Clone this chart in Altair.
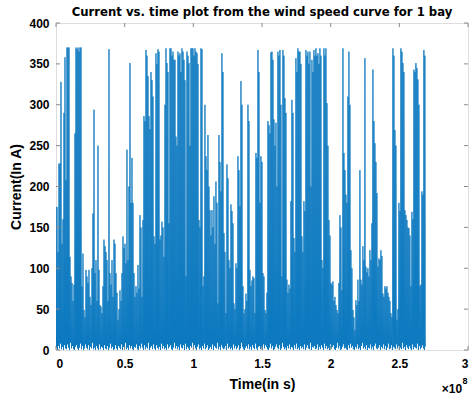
import altair as alt
import pandas as pd

# Peak current (A) read per screen column of the reference, left to right
peak_current = [
    175, 175, 120, 228, 228, 328, 130, 160, 290, 358,
    208, 370, 370, 370, 114, 90, 82, 60, 80, 265,
    370, 368, 370, 365, 370, 370, 78, 118, 49, 40,
    98, 90, 82, 98, 65, 55, 100, 167, 294, 94,
    110, 60, 250, 98, 55, 53, 45, 78, 135, 127,
    120, 110, 60, 368,
    94, 80, 110, 65, 135, 130, 94, 70, 37, 50,
    73, 60, 94, 139, 125, 130, 106, 245, 110, 200,
    351, 180, 235, 180, 94, 65, 78, 70, 104, 75,
    165, 150, 65, 159, 286, 280, 367, 360, 335, 286,
    270, 340, 330, 310, 139, 130, 363, 350, 368, 365,
    135, 140, 157, 150,
    114, 300, 369, 351, 340, 155, 369, 369, 360, 365,
    355, 355, 261, 250, 365, 360, 363, 340, 369, 365,
    355, 330, 90, 365, 360, 351, 250, 369, 369, 369,
    360, 369, 365, 363, 350, 159, 150, 369, 368, 78,
    90, 300, 237, 220, 263, 200, 171, 140, 171, 150,
    188, 130, 206, 180,
    57, 263, 230, 194, 363, 340, 143, 120, 45, 227,
    210, 110, 100, 178, 170, 155, 57, 50, 106, 100,
    237, 220, 176, 329, 300, 78, 45, 50, 69, 60,
    300, 280, 98, 78, 85, 90, 88, 45, 241, 235,
    367, 340, 180, 237, 230, 94, 90, 49, 45, 70,
    280, 275, 265, 364,
    365, 355, 282, 250, 278, 200, 365, 360, 367, 300,
    90, 367, 360, 308, 290, 86, 70, 80, 75, 182,
    306, 290, 137, 120, 357, 340, 369, 365, 365, 350,
    139, 120, 182, 170, 367, 360, 365, 350, 365, 200,
    355, 340, 367, 360, 369, 360, 363, 350, 369, 360,
    110, 100, 369, 360,
    369, 302, 250, 159, 140, 82, 80, 84, 60, 65,
    55, 49, 45, 82, 165, 150, 73, 369, 241, 220,
    190, 180, 310, 365, 300, 122, 100, 49, 40, 24,
    61, 55, 86, 60, 220, 86, 80, 127, 110, 357,
    102, 95, 100, 90, 122, 110, 155, 343, 280, 253,
    230, 192, 102,
    112, 110, 122, 115, 69, 65, 78, 75, 78, 70,
    65, 60, 45, 40, 369, 360, 269, 250, 37, 50,
    180, 170, 369, 365, 351, 340, 171, 165, 159, 150,
    149, 140, 78, 169, 160, 343, 340, 351, 345, 331,
    300, 78, 80, 194, 190, 367, 360,
]

# Low current (A) reached between peaks in each column
trough_current = [
    3, 0, 5, 2, 8, 1, 4, 0, 6, 2,
    1, 7, 3, 0, 9, 2, 5, 1, 0, 4,
    6, 2, 0, 3, 8, 1, 5, 0, 2, 7,
    3, 1, 6, 0, 4, 2, 9, 1, 3, 0,
    5, 2, 0, 7, 1, 4, 3, 0, 6, 2,
    1, 5, 0, 3, 8, 2, 4, 0, 1, 6,
    2, 0, 5, 3, 1, 7, 0, 4, 2, 9,
    1, 3, 0, 6, 2, 5, 1, 0, 4, 3,
    7, 1, 0, 5, 2, 8, 3, 0, 6, 1,
    4, 2, 9, 0, 3, 5, 1, 7, 2, 0,
    6, 3, 1, 4, 0, 8, 2, 5, 1, 3,
    0, 7, 2, 4, 6, 1, 0, 3, 9, 2,
    5, 1, 4, 0, 7, 3, 2, 6, 0, 8,
    1, 4, 2, 0, 5, 3, 9, 1, 6, 2,
    0, 4, 7, 1, 3, 0, 5, 2, 8, 1,
    3, 6, 0, 2, 4, 1, 7, 0, 5, 3,
    2, 9, 1, 4, 0, 6, 3, 1, 2, 5,
    0, 8, 2, 4, 1, 3, 0, 7, 2, 5,
    1, 3, 6, 0, 2, 9, 4, 1, 0, 3,
    5, 2, 7, 1, 4, 0, 6, 3, 1, 8,
    2, 0, 4, 5, 1, 3, 0, 7, 2, 6,
    4, 1, 0, 3, 8, 2, 5, 0, 1, 4,
    7, 3, 1, 6, 0, 2, 9, 4, 1, 3,
    0, 5, 2, 7, 1, 4, 3, 0, 6, 2,
    8, 1, 3, 0, 5, 2, 4, 1, 7, 0,
    3, 6, 2, 1, 9, 0, 4, 3, 5, 1,
    2, 7, 0, 4, 1, 6, 3, 0, 8, 2,
    5, 1, 3, 0, 7, 2, 4, 6, 1, 0,
    3, 9, 2, 5, 0, 1, 4, 7, 2, 3,
    1, 0, 6, 2, 8, 3, 5, 1, 0, 4,
    2, 7, 1, 3, 0, 5, 9, 2, 4, 1,
    6, 0, 3, 2, 7, 1, 4, 0, 5, 8,
    2, 1, 3, 6, 0, 4, 2, 7, 1, 5,
    0, 3, 8, 1, 2, 6, 0, 4, 3, 1,
    7, 2, 5, 0, 3, 1, 9, 2, 4, 0,
    6, 3, 1, 5, 2, 0, 7, 1, 4, 3,
    2, 8, 0, 5, 1, 3, 6, 2, 0, 4,
]

sample_step_s = 7.28e5          # time covered by one column of the reference
x_tick_values = [0, 5e7, 1e8, 1.5e8, 2e8, 2.5e8, 3e8]
y_tick_values = [0, 50, 100, 150, 200, 250, 300, 350, 400]

rows = []
for i, (p, q) in enumerate(zip(peak_current, trough_current)):
    rows.append({"t": i * sample_step_s, "current": p})
    rows.append({"t": (i + 0.5) * sample_step_s, "current": q})
df = pd.DataFrame(rows)

W, H = 412, 327
FONT = "Liberation Sans"
FRAME = "#8a8a8a"

xscale = alt.Scale(domain=[0, 3e8], nice=False, zero=False)
yscale = alt.Scale(domain=[0, 400], nice=False)

line = alt.Chart(df).mark_line(color="#0072BD", strokeWidth=0.8, clip=True).encode(
    x=alt.X("t:Q", scale=xscale,
            axis=alt.Axis(values=x_tick_values, labelExpr="datum.value / 100000000",
                          title="Time(in s)", ticks=False, tickSize=0, domain=False,
                          grid=False, labelPadding=8, titlePadding=8,
                          labelFont=FONT, labelFontSize=12, labelFontWeight="bold",
                          labelColor="#000", titleFont=FONT, titleFontSize=14,
                          titleFontWeight="bold", titleColor="#000")),
    y=alt.Y("current:Q", scale=yscale,
            axis=alt.Axis(values=y_tick_values, title="Current(In A)", ticks=False,
                          tickSize=0, domain=False, grid=False, labelPadding=7,
                          titlePadding=5, labelFont=FONT, labelFontSize=12,
                          labelFontWeight="bold", labelColor="#000", titleFont=FONT,
                          titleFontSize=14, titleFontWeight="bold", titleColor="#000")),
)

xt = pd.DataFrame({"t": x_tick_values})
yt = pd.DataFrame({"current": y_tick_values})

xtick_bottom = alt.Chart(xt).mark_rule(color=FRAME, strokeWidth=1).encode(
    x=alt.X("t:Q", scale=xscale), y=alt.value(H), y2=alt.value(H - 4))
xtick_top = alt.Chart(xt).mark_rule(color=FRAME, strokeWidth=1).encode(
    x=alt.X("t:Q", scale=xscale), y=alt.value(0), y2=alt.value(4))
ytick_left = alt.Chart(yt).mark_rule(color=FRAME, strokeWidth=1).encode(
    y=alt.Y("current:Q", scale=yscale), x=alt.value(0), x2=alt.value(4))
ytick_right = alt.Chart(yt).mark_rule(color=FRAME, strokeWidth=1).encode(
    y=alt.Y("current:Q", scale=yscale), x=alt.value(W), x2=alt.value(W - 4))

mult_df = pd.DataFrame({"a": [0]})
mult_base = alt.Chart(mult_df).mark_text(font=FONT, fontSize=12, fontWeight="bold",
                                         color="#000").encode(
    x=alt.value(396), y=alt.value(366), text=alt.value("×10"))
mult_exp = alt.Chart(mult_df).mark_text(font=FONT, fontSize=9, fontWeight="bold",
                                        color="#000").encode(
    x=alt.value(409), y=alt.value(358), text=alt.value("8"))

chart = alt.layer(
    line, xtick_bottom, xtick_top, ytick_left, ytick_right, mult_base, mult_exp
).properties(
    width=W, height=H,
    title=alt.TitleParams("Current vs. time plot from the wind speed curve for 1 bay",
                          font="DejaVu Sans", fontSize=11.7, fontWeight="bold",
                          color="#000", anchor="middle", frame="group",
                          offset=0, dy=2),
    autosize=alt.AutoSizeParams(type="none"),
    padding={"left": 56, "top": 23, "right": 4, "bottom": 49},
).configure_view(stroke=FRAME, strokeWidth=1).configure(background="white")

chart.save("out.html", embed_options={"renderer": "svg", "actions": False})
